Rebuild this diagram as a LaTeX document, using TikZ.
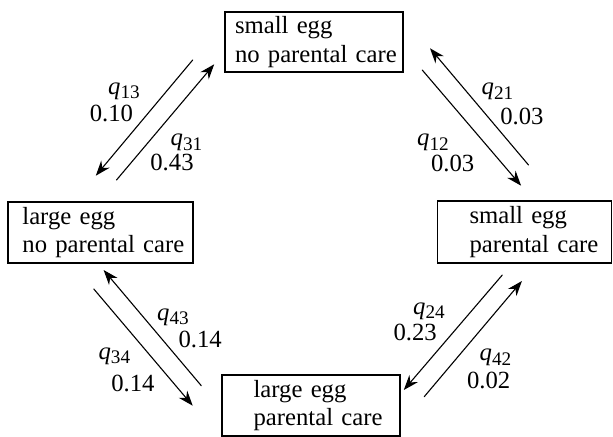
\documentclass[tikz,border=0pt]{standalone}
\usepackage{fontspec}
\setmainfont{Liberation Serif}
\usetikzlibrary{arrows.meta}
\newcommand{\qrate}[1]{\textit{q}\raisebox{-2.2pt}{\fontsize{9.6}{10}\selectfont #1}}
\tikzset{>={Stealth[length=7.5pt,width=5.5pt]},
  state/.style={draw, line width=0.7pt, inner sep=0pt, align=left,
    font=\fontsize{12.35}{14.2}\selectfont},
  pad/.style={execute at begin node={\leftskip=#1}},
  rate/.style={font=\fontsize{12.35}{14.2}\selectfont},
  flow/.style={->, line width=0.55pt}}

\begin{document}
\begin{tikzpicture}[x=0.5pt,y=-0.5pt,line cap=round]
  \useasboundingbox (0,0) rectangle (613,437);

  % the four states
  \node [state, pad=5pt, text width=89pt, minimum height=30pt]
    (snc) at (314,42) {small egg\\no parental care};
  \node [state, pad=7.2pt, text width=92.5pt, minimum height=30.5pt]
    (lnc) at (100.5,232.5) {large egg\\no parental care};
  \node [state, pad=16pt, text width=87pt, minimum height=31pt]
    (spc) at (524.5,232) {small egg\\parental care};
  \node [state, pad=15.8pt, text width=89pt, minimum height=30.5pt]
    (lpc) at (311,405.5) {large egg\\parental care};

  % ends of the arrows
  \coordinate (a13) at (192.7,60);    \coordinate (b13) at (95.8,175.7);
  \coordinate (a31) at (116.5,180);   \coordinate (b31) at (214.2,64.3);
  \coordinate (a21) at (528.5,165);   \coordinate (b21) at (430,48.3);
  \coordinate (a12) at (422.2,70);    \coordinate (b12) at (521.1,185.7);
  \coordinate (a43) at (201.3,385.7); \coordinate (b43) at (103.6,270);
  \coordinate (a34) at (93.8,289);    \coordinate (b34) at (192.7,405.7);
  \coordinate (a24) at (502.3,275);   \coordinate (b24) at (403.8,390);
  \coordinate (a42) at (424.2,396.7); \coordinate (b42) at (521.9,281);

  \draw [flow] (a13) -- (b13);
  \draw [flow] (a31) -- (b31);
  \draw [flow] (a21) -- (b21);
  \draw [flow] (a12) -- (b12);
  \draw [flow] (a43) -- (b43);
  \draw [flow] (a34) -- (b34);
  \draw [flow] (a24) -- (b24);
  \draw [flow] (a42) -- (b42);

  % rates
  \node [rate] (q13) at (124,91) {\qrate{13}};
  \node [rate] (v13) at (111.4,113) {0.10};
  \node [rate] (q31) at (186.5,142.5) {\qrate{31}};
  \node [rate] (v31) at (172,162.3) {0.43};
  \node [rate] (q21) at (497.5,91.5) {\qrate{21}};
  \node [rate] (v21) at (521.9,116.7) {0.03};
  \node [rate] (q12) at (433,142.5) {\qrate{12}};
  \node [rate] (v12) at (452.7,163.3) {0.03};
  \node [rate] (q43) at (173,317) {\qrate{43}};
  \node [rate] (v43) at (200.2,339.3) {0.14};
  \node [rate] (q34) at (114.4,356) {\qrate{34}};
  \node [rate] (v34) at (132.9,383.3) {0.14};
  \node [rate] (q24) at (429,311) {\qrate{24}};
  \node [rate] (v24) at (415.2,332.7) {0.23};
  \node [rate] (q42) at (495.5,357.5) {\qrate{42}};
  \node [rate] (v42) at (488.7,380.7) {0.02};

\end{tikzpicture}
\end{document}
